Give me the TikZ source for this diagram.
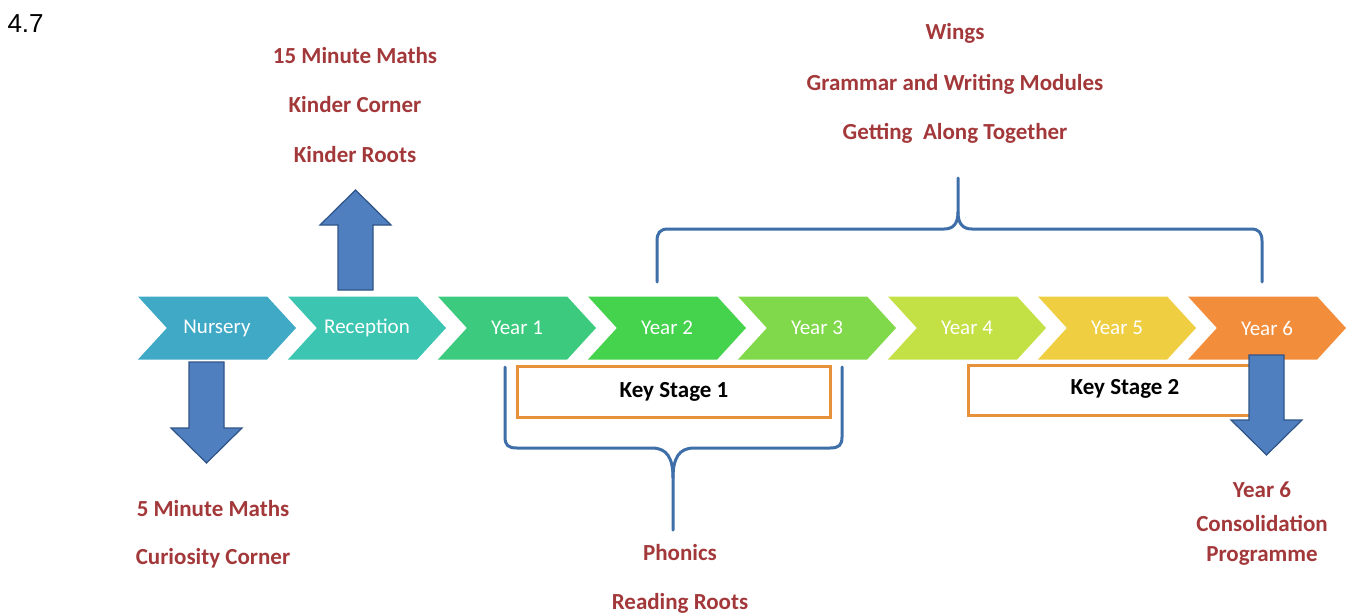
\documentclass[tikz,border=0pt]{standalone}
\usepackage{fontspec}
\setmainfont{Carlito}
\newfontfamily\numfont{Liberation Sans}
\usetikzlibrary{shapes.symbols}

\definecolor{cNur}{HTML}{3FA9C6}
\definecolor{cRec}{HTML}{3CC5B0}
\definecolor{cYa}{HTML}{3CCB7E}
\definecolor{cYb}{HTML}{45D34E}
\definecolor{cYc}{HTML}{80D94A}
\definecolor{cYd}{HTML}{C3E045}
\definecolor{cYe}{HTML}{EFCE42}
\definecolor{cYf}{HTML}{F28D3B}
\definecolor{labelred}{HTML}{A3383A}
\definecolor{bracebl}{HTML}{3F6FA9}
\definecolor{arrowfill}{HTML}{4F7FBF}
\definecolor{arrowline}{HTML}{2F5488}
\definecolor{ksorange}{HTML}{E8913B}

\tikzset{
  stage/.style={shape=signal, signal to=east, signal from=west,
    signal pointer angle=95, minimum width=158, minimum height=63,
    inner sep=0pt, draw=none, text=white, font=\fontsize{21}{24}\selectfont},
  label/.style={text=labelred, font=\bfseries\fontsize{23}{26}\selectfont},
  ksbox/.style={draw=ksorange, line width=3pt, fill=white},
  bigarrow/.style={fill=arrowfill, draw=arrowline, line width=1.2pt, line join=miter},
  brace/.style={draw=bracebl, line width=3pt, line cap=round},
}

\begin{document}
\begin{tikzpicture}[x=1pt,y=-1pt]
      \useasboundingbox (0,0) rectangle (1346,614);
      \node[anchor=west,font=\numfont\fontsize{26}{28}\selectfont] (num) at (4,24) {4.7};
      % the year chevrons
      \node[stage,fill=cNur] (nur) at (217,328) {Nursery};
      \node[stage,fill=cRec] (rec) at (367,328) {Reception};
      \node[stage,fill=cYa] (ya) at (517,328) {Year 1};
      \node[stage,fill=cYb] (yb) at (667,328) {Year 2};
      \node[stage,fill=cYc] (yc) at (817,328) {Year 3};
      \node[stage,fill=cYd] (yd) at (967,328) {Year 4};
      \node[stage,fill=cYe] (ye) at (1117,328) {Year 5};
      \node[stage,fill=cYf] (yf) at (1267,328) {Year 6};
      %
      \node[ksbox,minimum width=313,minimum height=51] (ks1) at (674,392) {};
      \node[font=\bfseries\fontsize{23}{26}\selectfont] (ks1t) at (ks1) {Key Stage 1};
      \node[ksbox,minimum width=294,minimum height=50] (ks2) at (1115,390) {};
      \node[font=\bfseries\fontsize{23}{26}\selectfont] (ks2t) at (1125,389) {Key Stage 2};
      % block arrows
      \draw[bigarrow] (338,290) -- (338,225) -- (320,225) -- (355.5,190) -- (391,225) -- (373,225) -- (373,290) -- cycle;
      \draw[bigarrow] (189,362) -- (189,428) -- (171,428) -- (206.5,463) -- (242,428) -- (224,428) -- (224,362) -- cycle;
      \draw[bigarrow] (1249,355) -- (1249,420) -- (1231,420) -- (1266.5,455) -- (1302,420) -- (1284,420) -- (1284,355) -- cycle;
      % braces
      \coordinate (tb) at (958,178);
      \coordinate (bb) at (673,530);
      \draw[brace] (657,282) -- (657,241) .. controls (657,233) and (660,229) .. (668,229) -- (944,229)
        .. controls (953,229) and (958,224) .. (958,212) -- (tb);
      \draw[brace] (1262,282) -- (1262,241) .. controls (1262,233) and (1259,229) .. (1251,229) -- (972,229)
        .. controls (963,229) and (958,224) .. (958,212);
      \draw[brace] (505,367) -- (505,437) .. controls (505,445) and (508,448) .. (517,448) -- (652,448)
        .. controls (667,448) and (673,458) .. (673,478) -- (bb);
      \draw[brace] (842,367) -- (842,437) .. controls (842,445) and (839,448) .. (830,448) -- (694,448)
        .. controls (679,448) and (673,458) .. (673,478);
      % labels
      \node[label] (rA) at (355,56) {15 Minute Maths};
      \node[label] (rB) at (355,105) {Kinder Corner};
      \node[label] (rC) at (355,155) {Kinder Roots};
      \node[label] (wA) at (955,33) {Wings};
      \node[label] (wB) at (955,84) {Grammar and Writing Modules};
      \node[label] (wC) at (955,133) {Getting\ \ Along Together};
      \node[label] (nA) at (213,509) {5 Minute Maths};
      \node[label] (nB) at (213,558) {Curiosity Corner};
      \node[label] (pA) at (680,553) {Phonics};
      \node[label] (pB) at (680,603) {Reading Roots};
      \node[label] (yA) at (1262,490) {Year 6};
      \node[label] (yB) at (1262,523) {Consolidation};
      \node[label] (yC) at (1262,556) {Programme};
    \end{tikzpicture}
\end{document}
